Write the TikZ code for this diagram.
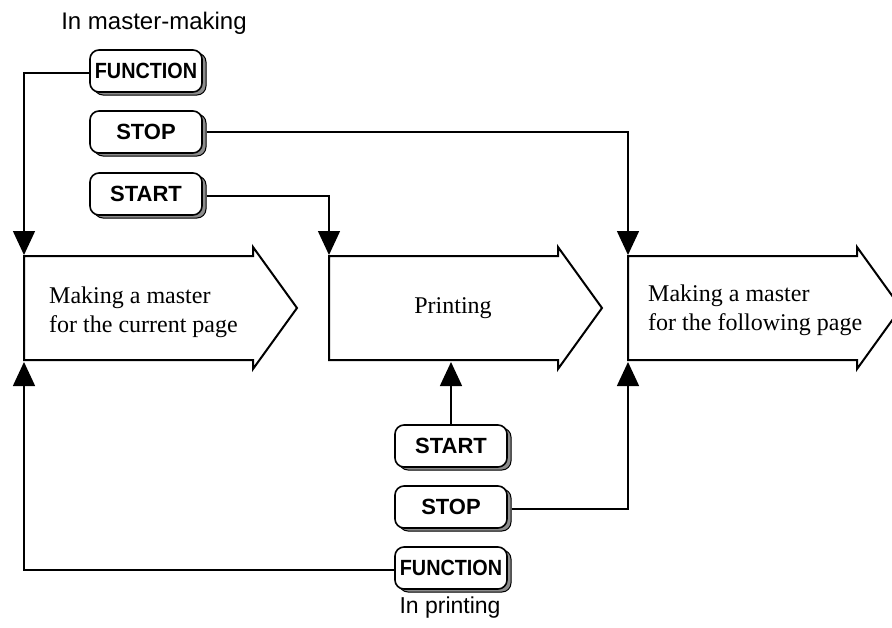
\documentclass[tikz,border=0pt]{standalone}
\usepackage{fontspec}
\usepackage{graphicx}
\setmainfont{Liberation Serif}
\setsansfont{Liberation Sans}
\usetikzlibrary{arrows.meta,shadows}
\begin{document}
\begin{tikzpicture}[x=1pt,y=-1pt,
  btn/.style={draw=black, line width=1.6pt, fill=white, rounded corners=9pt,
    minimum width=112pt, minimum height=42pt, inner sep=0pt,
    font=\fontsize{22}{26}\selectfont\sffamily\bfseries,
    drop shadow={shadow xshift=4pt, shadow yshift=-3pt, opacity=1,
      fill=black!45, draw=black, line width=1pt}},
  conn/.style={line width=1.5pt, -{Triangle[length=24pt,width=22pt]}},
  bigarrow/.style={draw=black, line width=2pt, line join=miter},
  atext/.style={font=\fontsize{24}{29}\selectfont\rmfamily, align=left, inner sep=0pt},
  lbl/.style={font=\fontsize{24}{28}\selectfont\sffamily, inner sep=0pt}
]
\useasboundingbox (0,0) rectangle (892,627);
\clip (0,0) rectangle (892,627);
\fill[white] (0,0) rectangle (892,627);

% big arrows
\draw[bigarrow] (24,256) -- (253,256) -- (253,247) -- (297,308) -- (253,369) -- (253,360) -- (24,360) -- cycle;
\draw[bigarrow] (329,256) -- (558,256) -- (558,247) -- (602,308) -- (558,369) -- (558,360) -- (329,360) -- cycle;
\draw[bigarrow] (628,256) -- (857,256) -- (857,247) -- (901,308) -- (857,369) -- (857,360) -- (628,360) -- cycle;

\coordinate (a1top) at (24,255);
\coordinate (a2top) at (329,255);
\coordinate (a3top) at (628,255);
\coordinate (a1bot) at (24,362);
\coordinate (a2bot) at (451,362);
\coordinate (a3bot) at (628,362);

\node[atext, anchor=west] (t1) at (49,312) {Making a master\\for the current page};
\node[atext, anchor=base] (t2) at (453,313) {Printing};
\node[atext, anchor=west] (t3) at (648,310) {Making a master\\for the following page};

% labels
\node[lbl, anchor=base] (l1) at (154,29) {In master-making};
\node[lbl, anchor=base, font=\fontsize{23}{27}\selectfont\sffamily] (l2) at (450,613) {In printing};

% buttons
\node[btn] (f1) at (146,71) {\scalebox{0.9}[1]{FUNCTION}};
\node[btn] (s1) at (146,132) {STOP};
\node[btn] (st1) at (146,194) {START};
\node[btn] (st2) at (451,446) {START};
\node[btn] (s2) at (451,507) {STOP};
\node[btn] (f2) at (451,568) {\scalebox{0.9}[1]{FUNCTION}};

% connectors
\draw[conn] ([yshift=-2pt]f1.west) -| (a1top);
\draw[conn] ([xshift=4pt]s1.east) -| (a3top);
\draw[conn] ([xshift=4pt,yshift=-2pt]st1.east) -| (a2top);
\draw[conn] (st2.north) -- (a2bot);
\draw[conn] ([xshift=4pt,yshift=-2pt]s2.east) -| (a3bot);
\draw[conn] ([yshift=-2pt]f2.west) -| (a1bot);
\end{tikzpicture}
\end{document}
